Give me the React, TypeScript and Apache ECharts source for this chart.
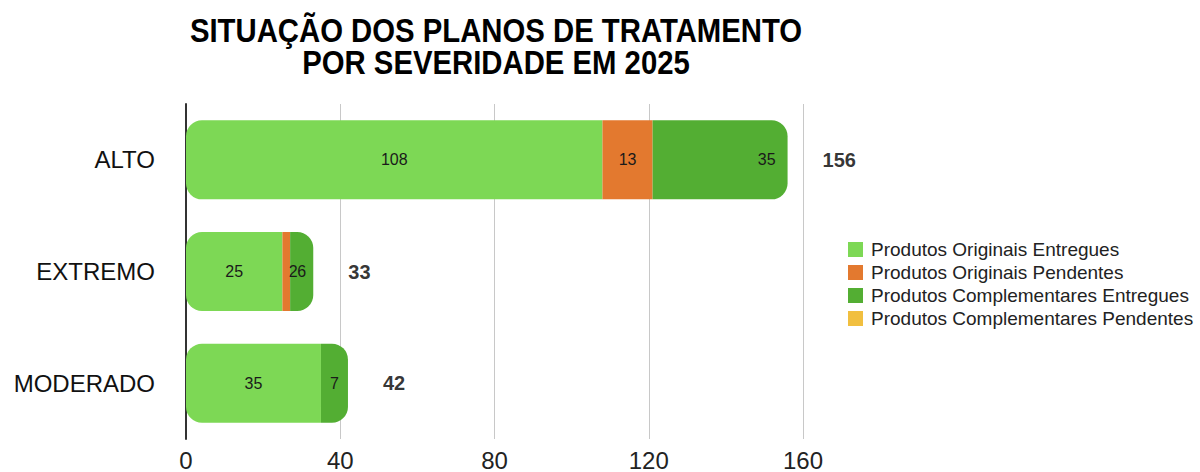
import React, { useEffect, useRef } from "react";
import * as echarts from "echarts";

const categories = ["ALTO", "EXTREMO", "MODERADO"];
const seriesNames = [
  "Produtos Originais Entregues",
  "Produtos Originais Pendentes",
  "Produtos Complementares Entregues",
  "Produtos Complementares Pendentes",
];
const originaisEntregues = [108, 25, 35];
const originaisPendentes = [13, 2, 0];
const complementaresEntregues = [35, 6, 7];
const complementaresPendentes = [0, 0, 0];
const totals = [156, 33, 42];
const xTicks = [0, 40, 80, 120, 160];
const titleLines = ["SITUAÇÃO DOS PLANOS DE TRATAMENTO", "POR SEVERIDADE EM 2025"];

const colors = ["#7dd855", "#e3792f", "#53ae33", "#f1bf3f"];
const FONT = "Liberation Sans, Arial, Helvetica, sans-serif";

export default function App() {
  const ref = useRef<HTMLDivElement>(null);
  useEffect(() => {
    if (!ref.current) return;
    const chart = echarts.init(ref.current, null, { renderer: "svg" });
    const all = [originaisEntregues, originaisPendentes, complementaresEntregues, complementaresPendentes];
    const R = 16;
    const makeData = (si: number) =>
      all[si].map((v, ci) => {
        let first = -1, last = -1;
        all.forEach((arr, k) => {
          if (arr[ci] > 0) {
            if (first < 0) first = k;
            last = k;
          }
        });
        const l = si === first ? R : 0;
        const r = si === last ? R : 0;
        const item: any = { value: v, itemStyle: { borderRadius: [l, r, r, l] } };
        if (si === 2 && ci === 0) {
          item.label = { position: "insideRight", distance: 12 };
        }
        if (si === 1 && ci === 1) {
          item.label = { offset: [7, 0] };
        }
        return item;
      });
    const barSeries = seriesNames.map((name, si) => ({
      name,
      type: "bar",
      stack: "total",
      barWidth: 79,
      itemStyle: { color: colors[si] },
      label: {
        show: true,
        position: "inside",
        color: "#1a1a1a",
        fontSize: 16,
        fontFamily: FONT,
        formatter: (p: any) => (p.value > 0 ? String(p.value) : ""),
      },
      data: makeData(si),
    }));
    const titleStyle = {
      fontFamily: FONT,
      fontWeight: "bold",
      fontSize: 33.5,
      fill: "#000",
      align: "center",
      verticalAlign: "middle",
    };
    chart.setOption({
      animation: false,
      graphic: titleLines.map((t, i) => ({
        type: "text",
        x: 496,
        y: 31 + i * 32,
        scaleX: 0.875,
        style: { ...titleStyle, text: t },
      })),
      legend: {
        data: seriesNames,
        orient: "vertical",
        left: 843,
        top: 235,
        itemWidth: 15,
        itemHeight: 15,
        itemGap: 4,
        icon: "rect",
        textStyle: {
          fontFamily: FONT,
          fontSize: 19,
          color: "#222",
          padding: [0, 0, 0, 3],
        },
      },
      grid: { left: 186, right: 397, top: 104, bottom: 33 },
      xAxis: {
        type: "value",
        min: xTicks[0],
        max: xTicks[xTicks.length - 1],
        interval: 40,
        axisLine: { show: false },
        axisTick: { show: false },
        splitLine: { show: true, lineStyle: { color: "#c8c8c8", width: 1 } },
        axisLabel: {
          color: "#222",
          fontSize: 24,
          margin: 9,
          fontFamily: FONT,
        },
      },
      yAxis: {
        type: "category",
        data: categories,
        inverse: true,
        axisLine: { show: true, lineStyle: { color: "#333", width: 2 } },
        axisTick: { show: false },
        axisLabel: {
          color: "#111",
          fontSize: 24,
          margin: 31,
          fontFamily: FONT,
        },
      },
      series: [
        ...barSeries,
        {
          name: "Total",
          type: "scatter",
          symbolSize: 0,
          data: totals.map((t, i) => [t, categories[i]]),
          label: {
            show: true,
            position: "right",
            distance: 35,
            color: "#000",
            fontSize: 20,
            fontWeight: "bold",
            fontFamily: FONT,
            formatter: (p: any) => String(p.value[0]),
          },
          silent: true,
        },
      ],
    });
    return () => chart.dispose();
  }, []);
  return (
    <div
      ref={ref}
      style={{ position: "absolute", left: 0, top: 0, width: 1200, height: 472 }}
    />
  );
}
